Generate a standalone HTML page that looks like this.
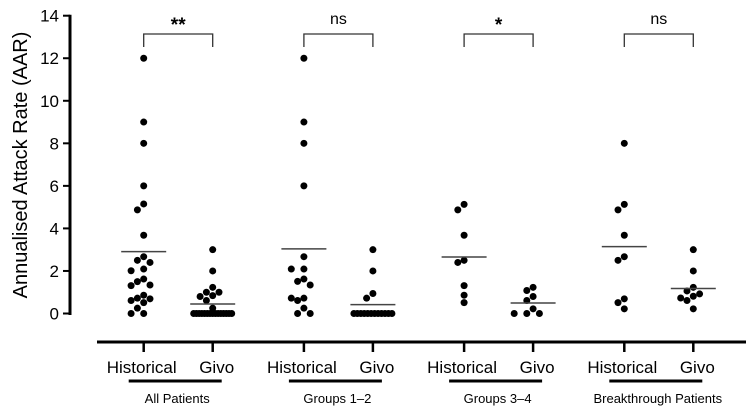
<!DOCTYPE html>
<html><head><meta charset="utf-8"><style>
html,body{margin:0;padding:0;background:#fff;}
svg{display:block;font-family:"Liberation Sans",Arial,sans-serif;}
</style></head><body>
<svg id="chart" width="746" height="414" viewBox="0 0 746 414"></svg>
<script>
const groups = ["All Patients","Groups 1–2","Groups 3–4","Breakthrough Patients"];
const arms = ["Historical","Givo"];
const significance = ["**","ns","*","ns"];
const yTicks = [0,2,4,6,8,10,12,14];
const allHist = [12,9,8,6,5.15,4.87,3.68,2.67,2.5,2.4,2.09,2.01,1.62,1.5,1.31,1.34,0.86,0.51,0.69,0.72,0.61,0.25,0,0];
const allGivo = [3,2,1.23,1.0,1.0,0.84,0.8,0.61,0.25,0,0,0,0,0,0,0,0,0,0,0,0,0,0,0];
const g12Hist = [12,9,8,6,2.67,2.09,2.09,1.62,1.51,1.34,0.72,0.72,0.61,0.25,0,0];
const g12Givo = [3,2,0.94,0.72,0,0,0,0,0,0,0,0,0,0,0,0];
const g34Hist = [5.13,4.87,3.68,2.5,2.4,1.31,0.86,0.51];
const g34Givo = [1.23,1.08,0.8,0.61,0.22,0,0,0];
const btHist = [8,5.13,4.87,3.68,2.67,2.5,0.69,0.51,0.22];
const btGivo = [3,2,1.23,1.06,0.92,0.81,0.73,0.61,0.22];
const series = [[allHist,allGivo],[g12Hist,g12Givo],[g34Hist,g34Givo],[btHist,btGivo]];

const NS="http://www.w3.org/2000/svg";
const svg=document.getElementById('chart');
function el(tag,attrs,parent){const e=document.createElementNS(NS,tag);for(const k in attrs)e.setAttribute(k,attrs[k]);(parent||svg).appendChild(e);return e;}
const y0=313.5, yTop=15.7, yMax=14;
function yScale(v){return y0-(v/yMax)*(y0-yTop);}
const groupStart=143.7, groupStep=160.2, armGap=69;
function xScale(g,a){return groupStart+g*groupStep+a*armGap;}

const yAxis=el('line',{x1:70,y1:yTop-1,x2:70,y2:y0+1.5,stroke:'#000','stroke-width':3});


yTicks.forEach(t=>{
  const y=yScale(t);
  const tk=el('line',{x1:63,y1:y,x2:70,y2:y,stroke:'#000','stroke-width':2});
  
  
  const tx=el('text',{x:59,y:y+6,'text-anchor':'end','font-size':17});
  tx.textContent=t;
  
  
});
const yt=el('text',{x:0,y:0,transform:'translate(27,165) rotate(-90)','text-anchor':'middle','font-size':20});
yt.textContent='Annualised Attack Rate (AAR)';



const xAxis=el('line',{x1:97,y1:342,x2:746,y2:342,stroke:'#000','stroke-width':3});



groups.forEach((gName,g)=>{
  arms.forEach((aName,a)=>{
    const x=xScale(g,a);
    const tk=el('line',{x1:x,y1:342,x2:x,y2:352,stroke:'#000','stroke-width':2.5});
    
    
    const tl=el('text',{x:x+(a===0?-2:4),y:373,'text-anchor':'middle','font-size':17});
    tl.textContent=aName;
    
    
  });
  const xl=xScale(g,0), xr=xScale(g,1);
  const ul=el('line',{x1:xl-15,y1:381,x2:xr+9,y2:381,stroke:'#000','stroke-width':3});
  
  
  const gl=el('text',{x:(xl+xr)/2-1,y:403,'text-anchor':'middle','font-size':13});
  gl.textContent=gName;
  
  
  const br=el('path',{d:`M${xl},47 V34 H${xr} V47`,fill:'none',stroke:'#333','stroke-width':1.3});
  
  
  const s=significance[g];
  const st=el('text',{x:(xl+xr)/2,y:s==='ns'?24:31,'text-anchor':'middle','font-size':s==='ns'?16:19,'font-weight':s==='ns'?'normal':'bold'});
  st.textContent=s;
  
  

  arms.forEach((aName,a)=>{
    const vals=series[g][a].slice().sort((p,q)=>q-p);
    const cx=xScale(g,a);
    const zeros=vals.filter(v=>v===0).length;
    const placed=[];
    const offs=[0,-6.3,6.3,-12.6,12.6,-18.9,18.9];
    vals.forEach(v=>{
      const y=yScale(v);
      let x=cx;
      if(v===0 && zeros>8){
        const i=placed.filter(p=>p.v===0).length;
        x=cx-19+i*(38/(zeros-1));
      } else {
        for(const o of offs){
          const ok=placed.every(p=>Math.hypot(p.x-(cx+o),p.y-y)>=6.6);
          if(ok){x=cx+o;break;}
        }
      }
      placed.push({x,y,v});
      const c=el('circle',{cx:x,cy:y,r:3.5,fill:'#000'});
      
      
    });
    const arr=series[g][a];
    const mean=arr.reduce((s,v)=>s+v,0)/arr.length;
    const ml=el('line',{x1:cx-22.5,y1:yScale(mean),x2:cx+22.5,y2:yScale(mean),stroke:'#444','stroke-width':1.5});
    
    
  });
});
</script>
</body></html>
